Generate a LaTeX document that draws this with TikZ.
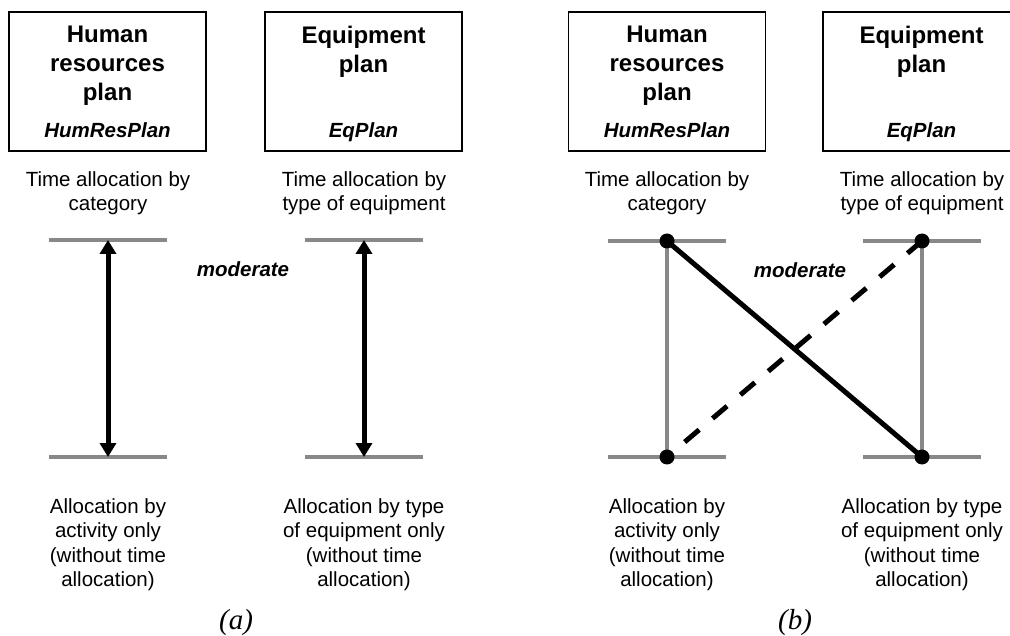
\documentclass[tikz,border=0pt]{standalone}
\usepackage{fontspec}
\setmainfont{Liberation Sans}
\newfontfamily\capfont{Liberation Serif}
\usetikzlibrary{arrows.meta}
\definecolor{tiergray}{HTML}{888888}

\begin{document}
\begin{tikzpicture}[x=1pt,y=-1pt,
    plan/.style={draw,line width=1.2pt,minimum width=197pt,minimum height=139pt,inner sep=0pt},
    ptitle/.style={anchor=north,align=center,inner sep=0pt,font=\fontsize{24}{29}\selectfont\bfseries},
    pcode/.style={anchor=base,inner sep=0pt,font=\fontsize{20.5}{24}\selectfont\bfseries\itshape},
    desc/.style={anchor=north,align=center,inner sep=0pt,font=\fontsize{20.5}{24.5}\selectfont},
    strength/.style={inner sep=0pt,font=\fontsize{20.5}{24}\selectfont\bfseries\itshape},
    panel/.style={anchor=base,inner sep=0pt,font=\fontsize{29}{32}\selectfont\capfont\itshape},
    tier/.style={draw=tiergray,line width=3.6pt},
    upright/.style={draw=tiergray,line width=3.6pt},
    tie/.style={line width=5pt},
    both/.style={line width=5pt,{Triangle[length=14pt,width=16pt]}-{Triangle[length=14pt,width=16pt]}},
    joint/.style={circle,fill,inner sep=0pt,minimum size=15pt}]
    \useasboundingbox (0,0) rectangle (1010,636);

    % (a)
    \path (107.5,81.5) node [plan] (hrplan) {};
    \path (363.5,81.5) node [plan] (eqplan) {};
    \path (hrplan.center |- 0,26) node [ptitle] (hrtitle) {Human\\resources\\plan};
    \path (eqplan.center |- 0,26) node [ptitle] (eqtitle) {Equipment\\plan};
    \path (hrplan.center |- 0,138) node [pcode] (hrcode) {HumResPlan};
    \path (eqplan.center |- 0,138) node [pcode] (eqcode) {EqPlan};
    \path (108,171) node [desc] (hrup) {Time allocation by\\category};
    \path (364,171) node [desc] (equp) {Time allocation by\\type of equipment};
    \path (108,498) node [desc] (hrlow) {Allocation by\\activity only\\(without time\\allocation)};
    \path (364,498) node [desc] (eqlow) {Allocation by type\\of equipment only\\(without time\\allocation)};
    \coordinate (hrtop) at (108,240);
    \coordinate (hrbot) at (108,457);
    \coordinate (eqtop) at (364,240);
    \coordinate (eqbot) at (364,457);
    \foreach \c in {hrtop,hrbot,eqtop,eqbot}
        \draw [tier] ([xshift=-59pt]\c) -- ([xshift=59pt]\c);
    \draw [both] (hrtop) -- (hrbot);
    \draw [both] (eqtop) -- (eqbot);
    \path (243,269) node [strength] (moda) {moderate};
    \path (236,629) node [panel] (capa) {(a)};

    % (b)
    \path (667,81.5) node [plan] (hrplanb) {};
    \path (921.5,81.5) node [plan] (eqplanb) {};
    \path (hrplanb.center |- 0,26) node [ptitle] (hrtitleb) {Human\\resources\\plan};
    \path (eqplanb.center |- 0,26) node [ptitle] (eqtitleb) {Equipment\\plan};
    \path (hrplanb.center |- 0,138) node [pcode] (hrcodeb) {HumResPlan};
    \path (eqplanb.center |- 0,138) node [pcode] (eqcodeb) {EqPlan};
    \path (667,171) node [desc] (hrupb) {Time allocation by\\category};
    \path (922,171) node [desc] (equpb) {Time allocation by\\type of equipment};
    \path (667,498) node [desc] (hrlowb) {Allocation by\\activity only\\(without time\\allocation)};
    \path (922,498) node [desc] (eqlowb) {Allocation by type\\of equipment only\\(without time\\allocation)};
    \coordinate (hrtopb) at (667,241);
    \coordinate (hrbotb) at (667,457);
    \coordinate (eqtopb) at (922,241);
    \coordinate (eqbotb) at (922,457);
    \foreach \c in {hrtopb,hrbotb,eqtopb,eqbotb}
        \draw [tier] ([xshift=-59pt]\c) -- ([xshift=59pt]\c);
    \draw [upright] (hrtopb) -- (hrbotb);
    \draw [upright] (eqtopb) -- (eqbotb);
    \draw [tie] (hrtopb) -- (eqbotb);
    \draw [tie,dash pattern=on 19pt off 17.5pt] (eqtopb) -- (hrbotb);
    \foreach \c in {hrtopb,hrbotb,eqtopb,eqbotb}
        \path (\c) node [joint] {};
    \path (800,270) node [strength] (modb) {moderate};
    \path (795,629) node [panel] (capb) {(b)};
\end{tikzpicture}
\end{document}
